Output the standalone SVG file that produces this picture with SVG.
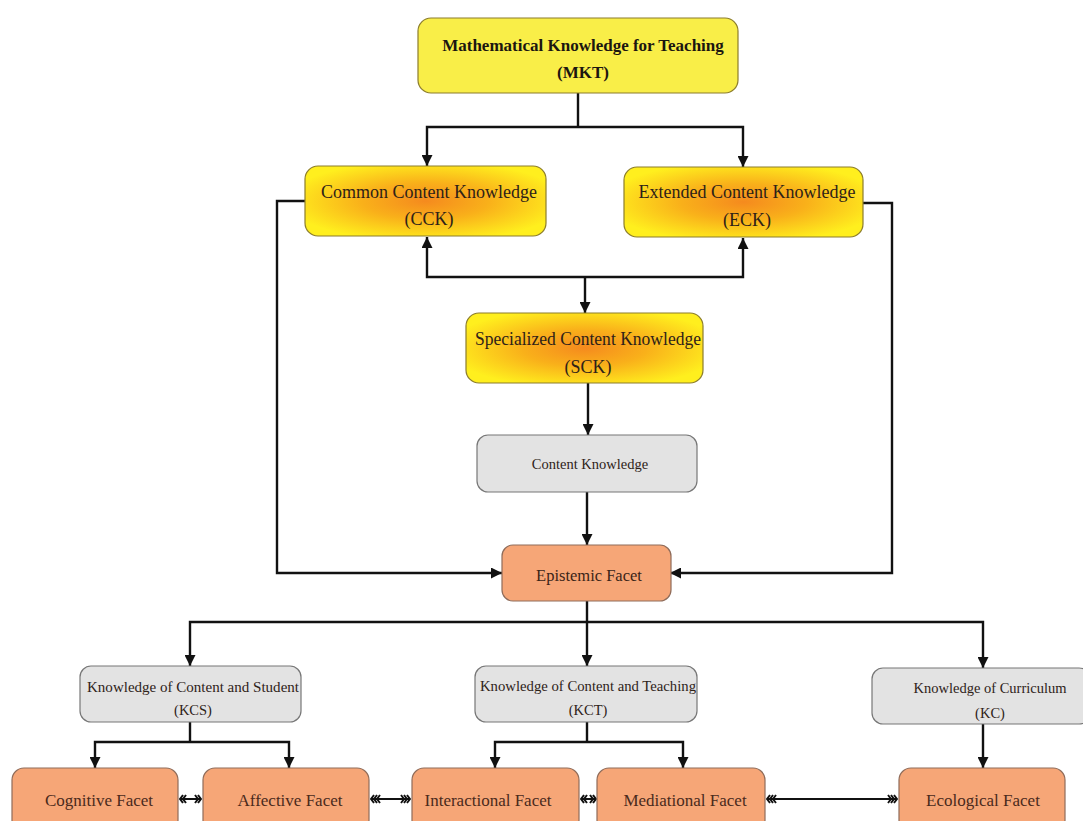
<svg xmlns="http://www.w3.org/2000/svg" width="1083" height="821" viewBox="0 0 1083 821">
<defs>
<style>
.lk{fill:none;stroke:#111;stroke-width:2.4}
.arr{marker-end:url(#ah)}
.bi2{marker-start:url(#c2);marker-end:url(#c2)}
.bi3{marker-start:url(#c3);marker-end:url(#c3)}
.mkt{fill:#F9EE48;stroke:#8c7d2c;stroke-width:1.2}
.grad{fill:url(#rg);stroke:#8c7d2c;stroke-width:1.2}
.grey{fill:#E3E3E3;stroke:#777;stroke-width:1.2}
.fac{fill:#F6A677;stroke:#8f6c5a;stroke-width:1.2}
text{font-family:"Liberation Serif","DejaVu Serif",serif;text-anchor:middle;fill:#2e2218}
.t1{font-size:17px;font-weight:bold;fill:#1c1610}
.t2{font-size:18px}
.t3{font-size:14.5px}
.t4{font-size:17px;fill:#4a2a1c}
.t5{font-size:16.5px;fill:#3a2418}
</style>
<radialGradient id="rg" cx="50%" cy="50%" r="58%">
<stop offset="0" stop-color="#F58A1E"/>
<stop offset="0.45" stop-color="#F9B01A"/>
<stop offset="1" stop-color="#FFEF1E"/>
</radialGradient>
<marker id="ah" viewBox="0 0 10 10" refX="10" refY="5" markerWidth="11" markerHeight="11" markerUnits="userSpaceOnUse" orient="auto">
<path d="M0,0 L10,5 L0,10 z" fill="#111"/>
</marker>
<marker id="c2" viewBox="0 0 8 10" refX="7" refY="5" markerWidth="8" markerHeight="10" markerUnits="userSpaceOnUse" orient="auto-start-reverse">
<path d="M1,1 L4,5 L1,9 M4,1 L7,5 L4,9" fill="none" stroke="#111" stroke-width="2"/>
</marker>
<marker id="c3" viewBox="0 0 11 10" refX="10" refY="5" markerWidth="11" markerHeight="10" markerUnits="userSpaceOnUse" orient="auto-start-reverse">
<path d="M1,1 L4,5 L1,9 M4,1 L7,5 L4,9 M7,1 L10,5 L7,9" fill="none" stroke="#111" stroke-width="1.9"/>
</marker>
</defs>
<rect width="1083" height="821" fill="#fff"/>

<g id="connectors">
<path class="lk" d="M578,93 V127"/>
<path class="lk arr" d="M578,127 H427 V166"/>
<path class="lk arr" d="M578,127 H743 V167"/>
<path class="lk arr" d="M305,201 H277 V573 H502"/>
<path class="lk arr" d="M863,203 H892 V573 H670"/>
<path class="lk arr" d="M585,277 H427 V237"/>
<path class="lk arr" d="M585,277 H743 V238"/>
<path class="lk arr" d="M585,277 V313"/>
<path class="lk arr" d="M588,383 V435"/>
<path class="lk arr" d="M587,492 V545"/>
<path class="lk" d="M587,601 V622"/>
<path class="lk arr" d="M587,622 H190 V666"/>
<path class="lk arr" d="M587,622 H983 V668"/>
<path class="lk arr" d="M587,622 V666"/>
<path class="lk" d="M190,722 V742"/>
<path class="lk arr" d="M190,742 H95 V768"/>
<path class="lk arr" d="M190,742 H289 V768"/>
<path class="lk" d="M587,722 V742"/>
<path class="lk arr" d="M587,742 H495 V768"/>
<path class="lk arr" d="M587,742 H683 V768"/>
<path class="lk arr" d="M983,724 V768"/>
<path class="lk bi2" d="M180,799 H201" style="stroke-width:2"/>
<path class="lk bi3" d="M371,799 H410" style="stroke-width:2"/>
<path class="lk bi2" d="M581,799 H596" style="stroke-width:2"/>
<path class="lk bi3" d="M767,799 H897" style="stroke-width:2"/>
</g>

<g id="mkt">
<rect class="mkt" x="418" y="18" width="320" height="75" rx="13"/>
<text class="t1" x="583" y="51">Mathematical Knowledge for Teaching</text>
<text class="t1" x="583" y="78">(MKT)</text>
</g>
<g id="cck">
<rect class="grad" x="305" y="166" width="241" height="70" rx="13"/>
<text class="t2" x="429" y="198">Common Content Knowledge</text>
<text class="t2" x="429" y="225">(CCK)</text>
</g>
<g id="eck">
<rect class="grad" x="624" y="167" width="239" height="70" rx="13"/>
<text class="t2" x="747" y="198">Extended Content Knowledge</text>
<text class="t2" x="747" y="226">(ECK)</text>
</g>
<g id="sck">
<rect class="grad" x="466" y="313" width="237" height="70" rx="13"/>
<text class="t2" x="588" y="345" textLength="226" lengthAdjust="spacingAndGlyphs">Specialized Content Knowledge</text>
<text class="t2" x="588" y="373">(SCK)</text>
</g>
<g id="ck">
<rect class="grey" x="477" y="435" width="220" height="57" rx="11"/>
<text class="t3" x="590" y="469">Content Knowledge</text>
</g>
<g id="epistemic">
<rect class="fac" x="502" y="545" width="169" height="56" rx="11"/>
<text class="t5" x="589" y="581">Epistemic Facet</text>
</g>
<g id="kcs">
<rect class="grey" x="80" y="666" width="221" height="56" rx="11"/>
<text class="t3" x="193" y="692" textLength="212" lengthAdjust="spacingAndGlyphs">Knowledge of Content and Student</text>
<text class="t3" x="193" y="715">(KCS)</text>
</g>
<g id="kct">
<rect class="grey" x="475" y="666" width="222" height="56" rx="11"/>
<text class="t3" x="588" y="691" textLength="216" lengthAdjust="spacingAndGlyphs">Knowledge of Content and Teaching</text>
<text class="t3" x="588" y="715">(KCT)</text>
</g>
<g id="kc">
<rect class="grey" x="872" y="668" width="218" height="56" rx="11"/>
<text class="t3" x="990" y="693">Knowledge of Curriculum</text>
<text class="t3" x="990" y="718">(KC)</text>
</g>
<g id="cognitive">
<rect class="fac" x="12" y="768" width="166" height="64" rx="12"/>
<text class="t4" x="99" y="806">Cognitive Facet</text>
</g>
<g id="affective">
<rect class="fac" x="203" y="768" width="166" height="64" rx="12"/>
<text class="t4" x="290" y="806">Affective Facet</text>
</g>
<g id="interactional">
<rect class="fac" x="412" y="768" width="167" height="64" rx="12"/>
<text class="t4" x="488" y="806">Interactional Facet</text>
</g>
<g id="mediational">
<rect class="fac" x="597" y="768" width="168" height="64" rx="12"/>
<text class="t4" x="685" y="806">Mediational Facet</text>
</g>
<g id="ecological">
<rect class="fac" x="899" y="768" width="166" height="64" rx="12"/>
<text class="t4" x="983" y="806">Ecological Facet</text>
</g>
</svg>
